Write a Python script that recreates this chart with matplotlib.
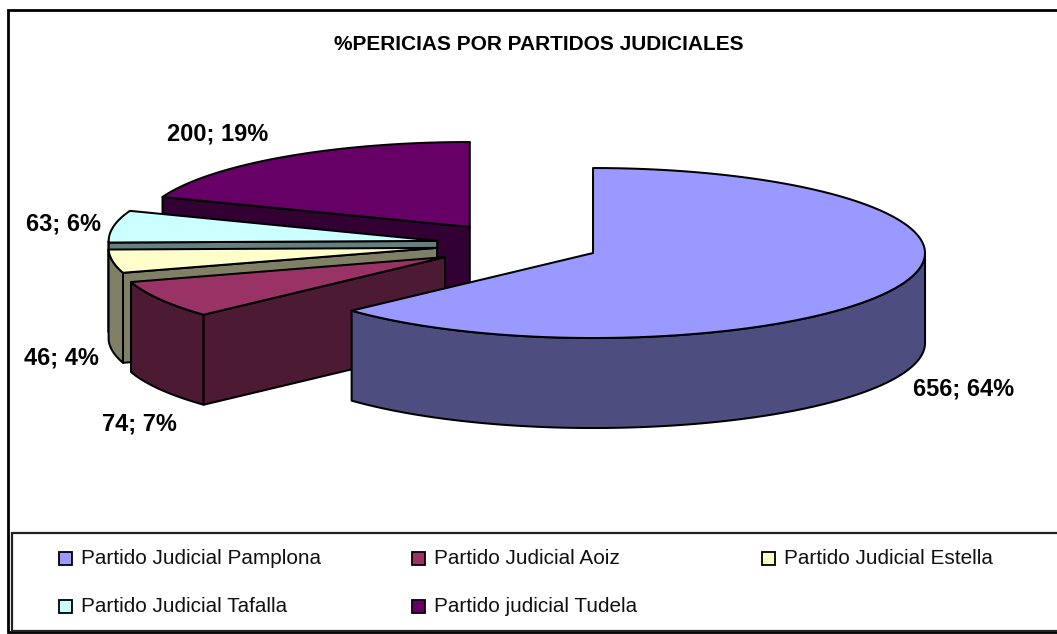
import numpy as np
import matplotlib
matplotlib.use("Agg")
import matplotlib.pyplot as plt
from matplotlib.patches import Polygon, Rectangle

plt.rcParams["font.family"] = ["Liberation Sans", "DejaVu Sans"]

# -------------------------
# Data
# -------------------------
categories = [
    "Partido Judicial Pamplona",
    "Partido Judicial Aoiz",
    "Partido Judicial Estella",
    "Partido Judicial Tafalla",
    "Partido judicial Tudela",
]
values = [656, 74, 46, 63, 200]
percents = [64, 7, 4, 6, 19]
top_colors = ["#9999FF", "#993366", "#FFFFCC", "#CCFFFF", "#660066"]
side_colors = ["#4D4D80", "#4D1A33", "#808066", "#668080", "#330033"]
title = "%PERICIAS POR PARTIDOS JUDICIALES"

# -------------------------
# Layout (pixels, y down)
# -------------------------
CX, CY = 517.0, 244.5
RX, RY = 332.0, 85.0
RX_LEFT = 328.5  # the original's perspective squeezes the left side a bit
DEPTH = 90.0
EXPLODE = 0.25
LINE = 1.45

nudges = [(0, 0), (0, 2), (2, 0), (2, 0), (0, 0)]
label_pos = [(964, 389), (139.5, 424), (61, 358), (63.5, 224), (217.5, 134)]
legend_pos = [(59, 552), (412, 552), (762, 552), (59, 600), (412, 600)]


def rim_points(cx, cy, a0, a1):
    t = np.radians(np.linspace(a0, a1, 100))
    s = np.sin(t)
    return np.column_stack([cx + np.where(s > 0, RX, RX_LEFT) * s, cy - RY * np.cos(t)])


def draw_slice(ax, a0, a1, top, side, nudge):
    mid = np.radians((a0 + a1) / 2)
    cx = CX + EXPLODE * RX * np.sin(mid) + nudge[0]
    cy = CY - EXPLODE * RY * np.cos(mid) + nudge[1]
    down = np.array([0, DEPTH])
    style = dict(edgecolor="black", linewidth=LINE, joinstyle="round")

    # outer rim, only the front half of the ellipse shows
    r0, r1 = max(a0, 90), min(a1, 270)
    if r1 > r0:
        arc = rim_points(cx, cy, r0, r1)
        ax.add_patch(Polygon(np.vstack([arc, arc[::-1] + down]), facecolor=side, **style))

    # radial cut facing the viewer
    if a0 > 180:
        edge = np.array([[cx, cy], rim_points(cx, cy, a0, a0)[0]])
        ax.add_patch(Polygon(np.vstack([edge, edge[::-1] + down]), facecolor=side, **style))

    # top face
    ax.add_patch(Polygon(np.vstack([[cx, cy], rim_points(cx, cy, a0, a1)]), facecolor=top, **style))


def main() -> None:
    fig = plt.figure(figsize=(10.57, 6.34), dpi=100)
    ax = fig.add_axes([0, 0, 1, 1])
    ax.set_xlim(0, 1057)
    ax.set_ylim(634, 0)
    ax.axis("off")

    # chart frame and legend box
    ax.add_patch(Rectangle((8, 10), 1060, 622, facecolor="white", edgecolor="black", linewidth=2.0))
    ax.add_patch(Rectangle((12, 533), 1060, 98, facecolor="white", edgecolor="#222222", linewidth=1.6))

    ax.text(539, 44, title, ha="center", va="center", fontsize=15, fontweight="bold")

    shares = np.array(values) / sum(values) * 360.0
    ends = np.cumsum(shares)
    starts = ends - shares

    # back to front
    for i in [4, 3, 2, 1, 0]:
        draw_slice(ax, starts[i], ends[i], top_colors[i], side_colors[i], nudges[i])

    for v, p, (x, y) in zip(values, percents, label_pos):
        ax.text(x, y, f"{v}; {p}%", ha="center", va="center", fontsize=17, fontweight="bold")

    for name, col, (x, y) in zip(categories, top_colors, legend_pos):
        ax.add_patch(Rectangle((x, y), 13, 13, facecolor=col, edgecolor="black", linewidth=1.3))
        ax.text(x + 22, y + 6.5, name, ha="left", va="center", fontsize=14.95, color="#111111")

    fig.savefig("out.png", dpi=100)
    plt.close(fig)


if __name__ == "__main__":
    main()
